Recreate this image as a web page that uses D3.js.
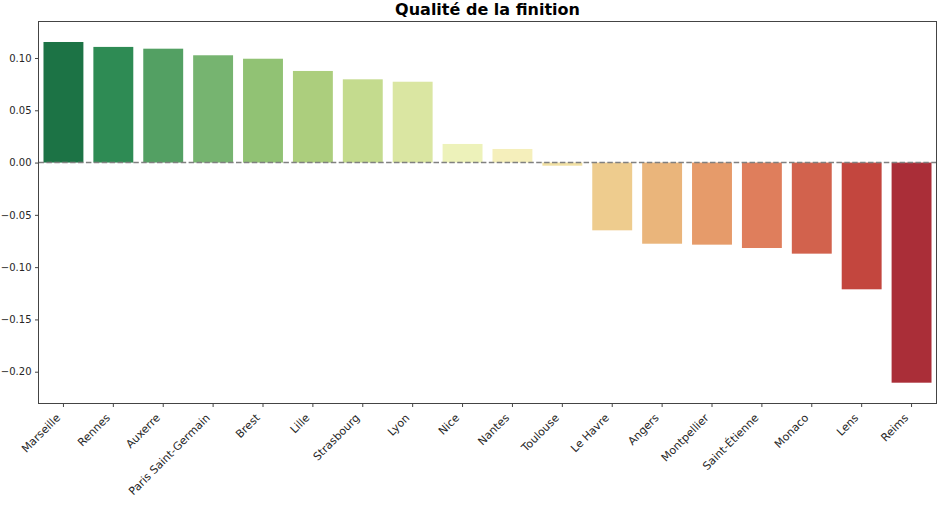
<!DOCTYPE html>
<html><head><meta charset="utf-8">
<script src="https://cdn.jsdelivr.net/npm/d3@7"></script>
<style>body{margin:0;background:#fff}svg{display:block}text{font-family:"DejaVu Sans",sans-serif}</style>
</head><body><svg id="c" width="945" height="508"></svg>
<script>
const categories = ["Marseille","Rennes","Auxerre","Paris Saint-Germain","Brest","Lille","Strasbourg","Lyon","Nice","Nantes","Toulouse","Le Havre","Angers","Montpellier","Saint-Étienne","Monaco","Lens","Reims"];
const values = [0.1153,0.1106,0.1089,0.1026,0.0993,0.0876,0.0796,0.0773,0.0178,0.0130,-0.0030,-0.0648,-0.0776,-0.0785,-0.0817,-0.0871,-0.1212,-0.2105];
const yTicks = [-0.20,-0.15,-0.10,-0.05,0.00,0.05,0.10];
const title = "Qualité de la finition";
const rdylgn = ["#a50026","#d73027","#f46d43","#fdae61","#fee08b","#ffffbf","#d9ef8b","#a6d96a","#66bd63","#1a9850","#006837"];

const svg = d3.select("#c");
const L=38.5, R=936.5, T=21.5, B=403.5;
const x = d3.scaleBand().domain(categories).range([L,R]).paddingInner(0.2).paddingOuter(0.1);
const y = d3.scaleLinear().domain([-0.2304,0.1349]).range([B,T]);
const cmap = d3.scaleLinear().domain(d3.range(11).map(i=>i/10)).range(rdylgn).interpolate(d3.interpolateRgb);
const n = categories.length;
function color(i){
  const c = d3.hsl(cmap(1-(i+1)/(n+1)));
  c.s *= 0.75;
  return c.formatHex();
}
svg.append("g").selectAll("rect").data(values).join("rect")
  .attr("x",(d,i)=>x(categories[i]))
  .attr("width",x.bandwidth())
  .attr("y",d=>y(Math.max(0,d)))
  .attr("height",d=>Math.abs(y(d)-y(0)))
  .attr("fill",(d,i)=>color(i));

svg.append("line").attr("x1",L).attr("x2",R).attr("y1",y(0)).attr("y2",y(0))
  .attr("stroke","#808080").attr("stroke-width",1.5).attr("stroke-dasharray","5.5,2.4");

const fmt = v => (v<0?"\u2212":"")+Math.abs(v).toFixed(2);
const ya = svg.append("g").attr("transform",`translate(${L},0)`)
  .call(d3.axisLeft(y).tickValues(yTicks).tickFormat(fmt).tickSize(3.5).tickPadding(3.5));
ya.select(".domain").remove();
ya.selectAll("text").attr("font-size",10).attr("fill","#262626").attr("font-family","DejaVu Sans");
ya.selectAll("line").attr("stroke","#444");

const xa = svg.append("g").attr("transform",`translate(0,${B})`)
  .call(d3.axisBottom(x).tickSize(3.5).tickFormat(""));
xa.select(".domain").remove();
xa.selectAll("line").attr("stroke","#444");
svg.append("g").selectAll("text").data(categories).join("text")
  .attr("transform",d=>`translate(${x(d)+x.bandwidth()/2-2.5},418.5) rotate(-45)`)
  .attr("text-anchor","end").attr("font-size",11).attr("fill","#262626").text(d=>d);

svg.append("rect").attr("x",L).attr("y",T).attr("width",R-L).attr("height",B-T)
  .attr("fill","none").attr("stroke","#444").attr("stroke-width",1);

svg.append("text").attr("x",(L+R)/2).attr("y",15).attr("text-anchor","middle")
  .attr("font-size",16).attr("font-weight","bold").attr("fill","#000").text(title);
</script></body></html>
